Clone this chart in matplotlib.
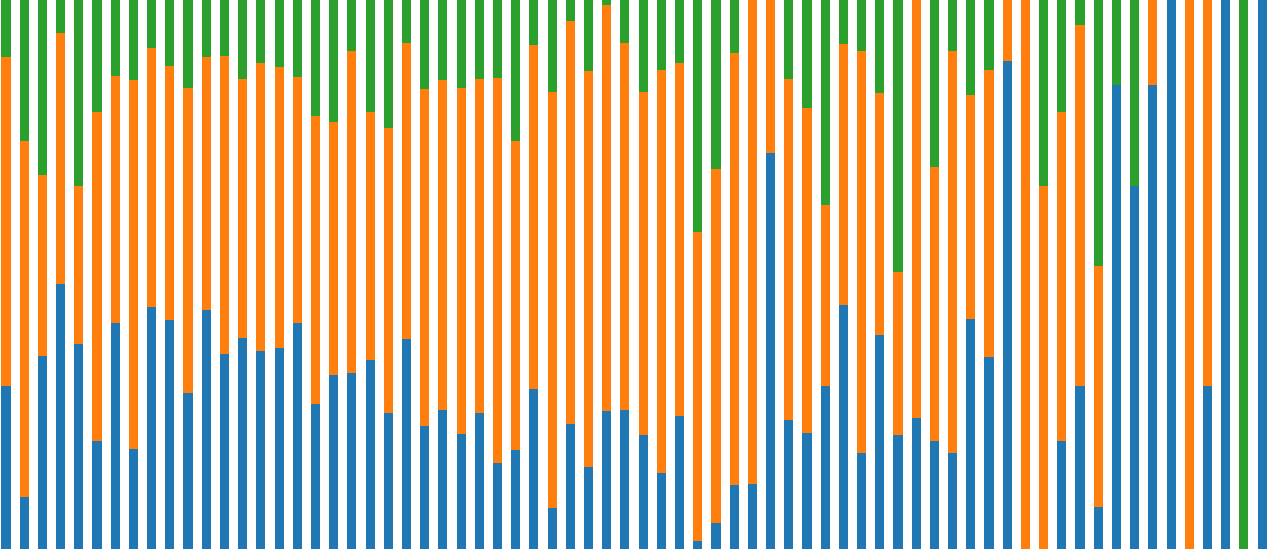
import matplotlib
matplotlib.use("Agg")
import matplotlib.pyplot as plt
import numpy as np

categories = list(range(70))

blue = [29.7, 9.4, 35.2, 48.2, 37.4, 19.6, 41.2, 18.3, 44.0, 41.8,
        28.5, 43.6, 35.5, 38.5, 36.1, 36.7, 41.2, 26.5, 31.7, 32.1,
        34.5, 24.7, 38.3, 22.4, 25.3, 21.0, 24.8, 15.7, 18.0, 29.1,
        7.5, 22.8, 14.9, 25.1, 25.3, 20.7, 13.9, 24.3, 1.5, 4.7,
        11.7, 11.9, 72.2, 23.5, 21.2, 29.7, 44.5, 17.5, 39.0, 20.7,
        23.9, 19.6, 17.5, 41.9, 34.9, 88.8, 0.0, 0.0, 19.6, 29.7,
        7.7, 84.6, 66.2, 84.6, 100.0, 0.0, 29.7, 100.0, 0.0, 100.0]

green = [10.4, 25.6, 31.8, 6.0, 33.8, 20.4, 13.8, 14.6, 8.8, 12.1,
         16.0, 10.4, 10.2, 14.4, 11.5, 12.2, 14.0, 21.2, 22.2, 9.2,
         20.4, 23.4, 7.8, 16.2, 14.6, 16.0, 14.4, 14.2, 25.6, 8.2,
         16.8, 3.8, 13.0, 1.0, 7.8, 16.8, 12.8, 11.4, 42.2, 30.8,
         9.6, 0.0, 0.0, 14.4, 19.6, 37.3, 8.0, 9.2, 17.0, 49.5,
         0.0, 30.4, 9.2, 17.3, 12.8, 0.0, 0.0, 33.8, 20.4, 4.5,
         48.4, 15.4, 33.8, 0.0, 0.0, 0.0, 0.0, 0.0, 100.0, 0.0]

blue_a = np.array(blue)
green_a = np.array(green)
orange_a = 100.0 - blue_a - green_a

fig = plt.figure(figsize=(12.69, 5.49), dpi=100)
ax = fig.add_axes([0, 0, 1, 1])
x = np.array(categories)
w = 0.5
ax.bar(x, blue_a, width=w, color="#1f77b4", linewidth=0)
ax.bar(x, orange_a, width=w, bottom=blue_a, color="#ff7f0e", linewidth=0)
ax.bar(x, green_a, width=w, bottom=blue_a + orange_a, color="#2ca02c", linewidth=0)
ax.set_xlim(-0.33, 69.38)
ax.set_ylim(0, 100)
ax.axis("off")
fig.savefig("out.png", dpi=100)
